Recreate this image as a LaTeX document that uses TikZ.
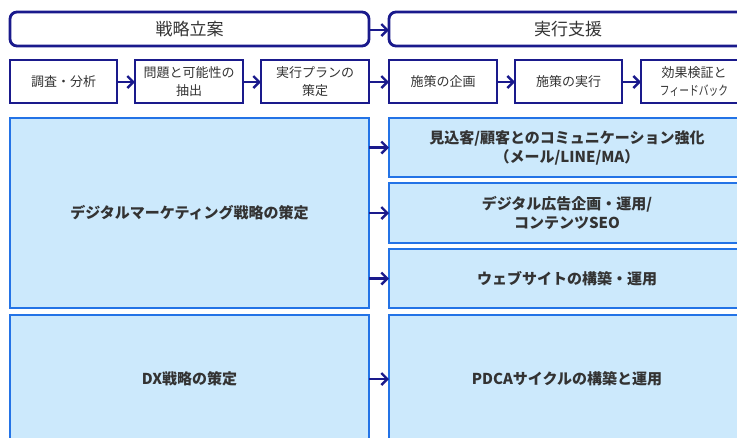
\documentclass[tikz,border=0pt]{standalone}
\usepackage{fontspec}
\newfontfamily\jp{Noto Sans CJK JP}
\usetikzlibrary{arrows.meta}
\definecolor{navy}{HTML}{1A1A8C}
\definecolor{brightblue}{HTML}{2373E6}
\definecolor{lightfill}{HTML}{CCE9FC}
\definecolor{txt}{HTML}{333333}
\tikzset{
  x=1pt,y=-1pt,
  phase/.style={draw=navy,line width=2.8pt,rounded corners=7pt,fill=white},
  stepbox/.style={draw=navy,line width=2.8pt,fill=white},
  bigbox/.style={draw=brightblue,line width=2.6pt,fill=lightfill},
  lbl/.style={text=txt,font=\jp\fontsize{13}{18}\selectfont,align=center},
  plbl/.style={text=txt,font=\jp\fontsize{17}{20}\selectfont,align=center},
  blbl/.style={text=txt,font=\jp\bfseries\fontsize{15}{19}\selectfont,align=center},
  arr/.style={draw=navy,line width=2.4pt,-{Straight Barb[length=6pt,width=12pt,line width=2.4pt]}},
}
\begin{document}
\begin{tikzpicture}
\useasboundingbox (0,0) rectangle (737,437);
\begin{scope}
\clip (0,0) rectangle (737,437);
% top phases
\draw[phase] (10,12) rectangle (369,46);
\draw[phase] (389,12) rectangle (760,46);
\node[plbl] (p1) at (189.5,29) {戦略立案};
\node[plbl] (p2) at (568,29) {実行支援};
\coordinate (p1r) at (369,30);
\coordinate (p2l) at (389,30);
% steps
\draw[stepbox] (10,60) rectangle (117,103);
\draw[stepbox] (135,60) rectangle (243,103);
\draw[stepbox] (261,60) rectangle (369,103);
\draw[stepbox] (389,60) rectangle (497,103);
\draw[stepbox] (515,60) rectangle (622,103);
\draw[stepbox] (641,60) rectangle (760,103);
\node[lbl] (s1) at (63.5,81.5) {調査・分析};
\node[lbl] (s2) at (189,81.5) {問題と可能性の\\抽出};
\node[lbl] (s3) at (315,81.5) {実行プランの\\策定};
\node[lbl] (s4) at (443,81.5) {施策の企画};
\node[lbl] (s5) at (568.5,81.5) {施策の実行};
\node[lbl] (s6) at (694,81.5) {効果検証と\\\scalebox{0.75}[1]{フィードバック}};
\coordinate (b1r) at (117,82); \coordinate (b2l) at (135,82);
\coordinate (b2r) at (243,82); \coordinate (b3l) at (261,82);
\coordinate (b3r) at (369,82); \coordinate (b4l) at (389,82);
\coordinate (b4r) at (497,82); \coordinate (b5l) at (515,82);
\coordinate (b5r) at (622,82); \coordinate (b6l) at (641,82);
% big boxes
\draw[bigbox] (10,118) rectangle (369,308);
\draw[bigbox] (10,315) rectangle (369,460);
\draw[bigbox] (389,118) rectangle (760,177);
\draw[bigbox] (389,183) rectangle (760,243);
\draw[bigbox] (389,249) rectangle (760,308);
\draw[bigbox] (389,315) rectangle (760,460);
\node[blbl] (l1) at (189.5,213) {デジタルマーケティング戦略の策定};
\node[blbl] (l2) at (189.5,379) {DX戦略の策定};
\node[blbl] (r1) at (567,147.5) {見込客/顧客とのコミュニケーション強化\\（メール/LINE/MA）};
\node[blbl] (r2) at (567,213) {デジタル広告企画・運用/\\コンテンツSEO};
\node[blbl] (r3) at (567,278.5) {ウェブサイトの構築・運用};
\node[blbl] (r4) at (567,379) {PDCAサイクルの構築と運用};
\coordinate (a1s) at (369,147.5); \coordinate (a1e) at (389,147.5);
\coordinate (a2s) at (369,213); \coordinate (a2e) at (389,213);
\coordinate (a3s) at (369,278.5); \coordinate (a3e) at (389,278.5);
\coordinate (a4s) at (369,379); \coordinate (a4e) at (389,379);
% arrows
\draw[arr] (p1r) -- (p2l);
\draw[arr] (b1r) -- (b2l);
\draw[arr] (b2r) -- (b3l);
\draw[arr] (b3r) -- (b4l);
\draw[arr] (b4r) -- (b5l);
\draw[arr] (b5r) -- (b6l);
\draw[arr] (a1s) -- (a1e);
\draw[arr] (a2s) -- (a2e);
\draw[arr] (a3s) -- (a3e);
\draw[arr] (a4s) -- (a4e);
\end{scope}
\end{tikzpicture}
\end{document}
